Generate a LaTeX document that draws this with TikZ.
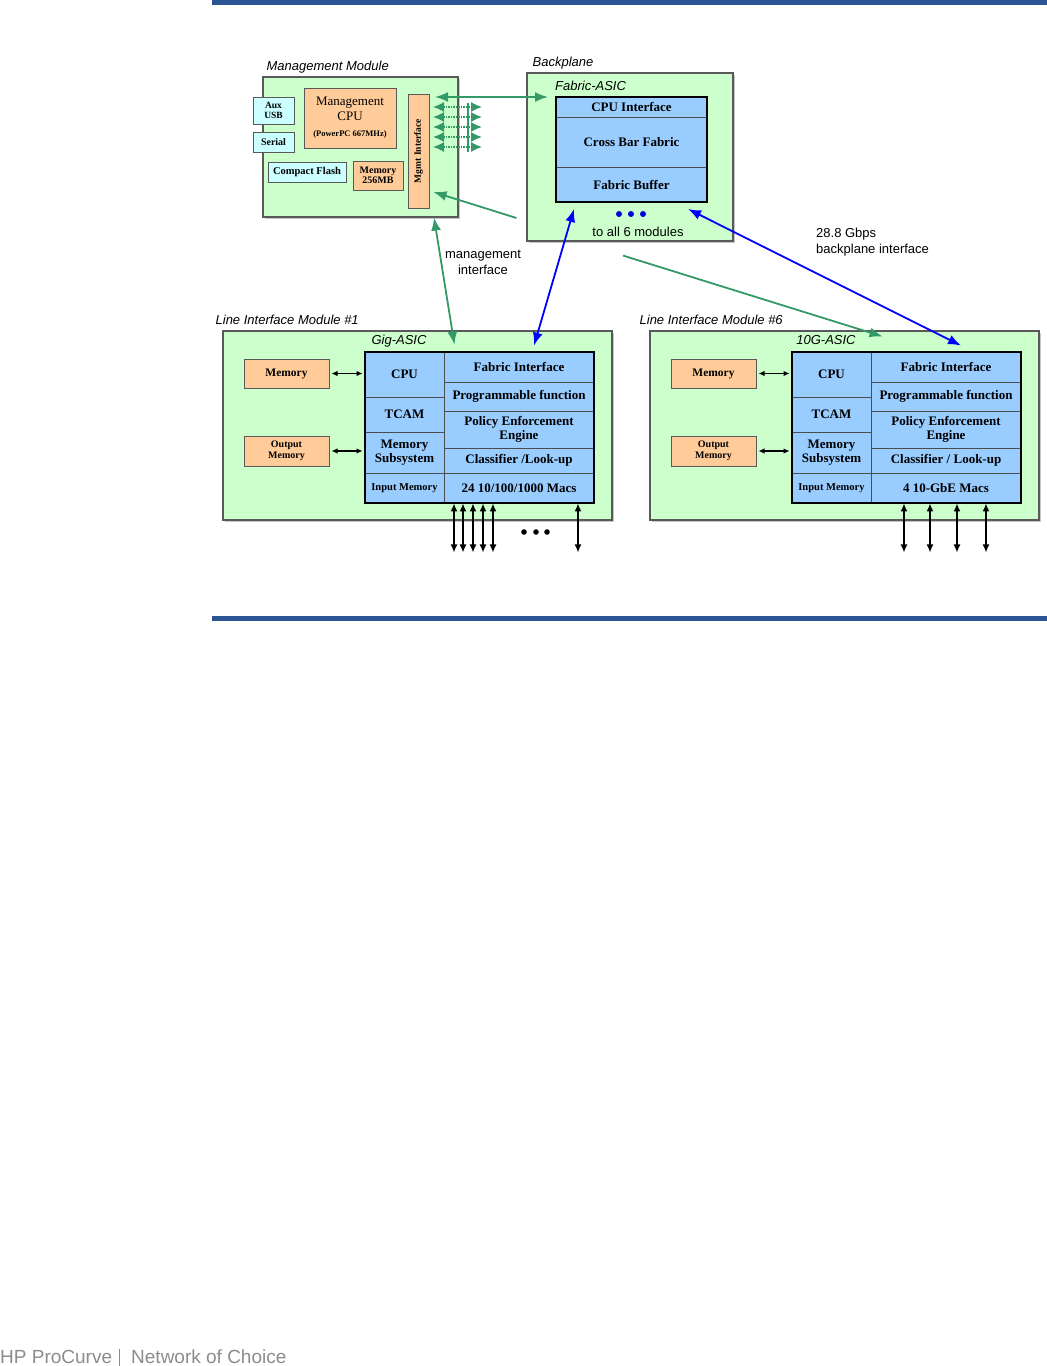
\documentclass[tikz,border=0pt]{standalone}
\usepackage{fontspec}
\setmainfont{Liberation Serif}
\setsansfont{Liberation Sans}
\usetikzlibrary{arrows.meta, positioning, shadows}

\definecolor{modgreen}{HTML}{CCFFCC}
\definecolor{asicblue}{HTML}{99CCFF}
\definecolor{memorange}{HTML}{FFCC99}
\definecolor{portcyan}{HTML}{CCFFFF}
\definecolor{linkgreen}{HTML}{339966}
\definecolor{linkblue}{HTML}{0000FF}
\definecolor{ruleblue}{HTML}{2B5594}
\definecolor{footgray}{HTML}{8C8C8C}

\begin{document}
\begin{tikzpicture}[
        x=1pt, y=-1pt,
        % boxes
        module/.style = {
            rectangle,
            draw=black!65,
            line width=1.1pt,
            fill=modgreen,
            inner sep=0pt,
            drop shadow={shadow xshift=1.5pt, shadow yshift=-1.5pt, opacity=0.45}
        },
        memblk/.style = {
            rectangle,
            draw=black!65,
            line width=1pt,
            fill=memorange,
            inner sep=1pt,
            align=center,
            font=\bfseries\fontsize{11.5}{12}\selectfont,
            drop shadow={shadow xshift=1.2pt, shadow yshift=-1.2pt, opacity=0.45}
        },
        portblk/.style = {
            memblk,
            fill=portcyan
        },
        cell/.style = {
            rectangle,
            draw=black!70,
            line width=0.9pt,
            fill=asicblue,
            inner sep=0pt,
            align=center,
            font=\bfseries\fontsize{13}{14}\selectfont
        },
        asicbox/.style = {rectangle, draw=black, line width=2pt, inner sep=0pt},
        % texts
        modtitle/.style = {font=\sffamily\itshape\fontsize{13}{15}\selectfont, inner sep=0pt},
        note/.style = {font=\sffamily\fontsize{13}{16}\selectfont, align=center, inner sep=0pt},
        footer/.style = {font=\sffamily\fontsize{19}{21}\selectfont, text=footgray, inner sep=0pt},
        % connectors
        mgmtlink/.style = {{Latex[length=13pt,width=10pt]}-{Latex[length=13pt,width=10pt]}, draw=linkgreen, line width=1.8pt},
        feedlink/.style = {-{Latex[length=13pt,width=10pt]}, draw=linkgreen, line width=1.8pt},
        buslink/.style = {{Latex[length=11pt,width=10pt]}-{Latex[length=11pt,width=10pt]}, draw=linkgreen, line width=1.5pt, densely dotted},
        datalink/.style = {{Latex[length=13pt,width=10pt]}-{Latex[length=13pt,width=10pt]}, draw=linkblue, line width=1.8pt},
        portlink/.style = {{Latex[length=8pt,width=7pt]}-{Latex[length=8pt,width=7pt]}, draw=black, line width=1.4pt},
        memlink/.style = {{Latex[length=6pt,width=5.5pt]}-{Latex[length=6pt,width=5.5pt]}, draw=black, line width=1.1pt}
    ]
    \useasboundingbox (0,0) rectangle (1047,1366);

    % page rules
    \fill[ruleblue] (212,0) rectangle (1047,5);
    \fill[ruleblue] (212,616) rectangle (1047,621);

    % 1. Management module
    \node (mgmt) [module, minimum width=195pt, minimum height=140pt] at (360.5,147) {};
    \node (mgmtlbl) [modtitle, above right=3pt and 4pt of mgmt.north west] {Management Module};
    \node (aux)    [portblk, minimum width=41pt, minimum height=27pt, font=\bfseries\fontsize{9.5}{10}\selectfont] at (273.5,110.5) {Aux\\USB};
    \node (serial) [portblk, minimum width=41pt, minimum height=20pt, font=\bfseries\fontsize{10}{10}\selectfont] at (273.5,142) {Serial};
    \node (mcpu)   [memblk, minimum width=92pt, minimum height=60pt, font=\fontsize{13}{15}\selectfont] at (350,118)
        {Management\\CPU\\[1pt]{\bfseries\fontsize{8.5}{9}\selectfont (PowerPC 667MHz)}};
    \node (cflash) [portblk, minimum width=78pt, minimum height=20pt, font=\bfseries\fontsize{10.5}{11}\selectfont] at (307,172) {Compact Flash};
    \node (mmem)   [memblk, minimum width=50pt, minimum height=29pt, font=\bfseries\fontsize{10}{10.5}\selectfont] at (378,175.5) {Memory\\256MB};
    \node (mgmtif) [memblk, minimum width=21pt, minimum height=114pt] at (418.5,151) {};
    \node (mgmtiftxt) [rotate=90, inner sep=0pt, font=\bfseries\fontsize{9.5}{10}\selectfont] at (mgmtif) {Mgmt Interface};

    % 2. Backplane
    \node (bp) [module, minimum width=206pt, minimum height=168pt] at (630,157) {};
    \node (bplbl) [modtitle, above right=3pt and 6pt of bp.north west] {Backplane};
    \node (cpuif) [cell, minimum width=151pt, minimum height=20pt] at (631.5,107) {CPU Interface};
    \node (xbar)  [cell, minimum width=151pt, minimum height=50pt] at (631.5,142) {Cross Bar Fabric};
    \node (fbuf)  [cell, minimum width=151pt, minimum height=35pt] at (631.5,184.5) {Fabric Buffer};
    \node (fasic) [asicbox, minimum width=151pt, minimum height=105pt] at (631.5,149.5) {};
    \node (fablbl) [modtitle, above right=5pt and 0pt of fasic.north west] {Fabric-ASIC};
    \foreach \x in {619,631,643}
        \fill[linkblue!85!black] (\x,214) circle (3pt);
    \node (allmods) [note] at (638,232) {to all 6 modules};

    % 3. Line Interface Module #1
    \node (lim1) [module, minimum width=389pt, minimum height=189pt] at (417.5,425.5) {};
    \node (lim1lbl) [modtitle, above right=6pt and -7pt of lim1.north west] {Line Interface Module \#1};
    \node (gig) [modtitle] at (399,341) {Gig-ASIC};
    \node (mem1) [memblk, minimum width=85pt, minimum height=29pt] at (286.5,373.5) {Memory};
    \node (out1) [memblk, minimum width=85pt, minimum height=30pt, font=\bfseries\fontsize{10}{11}\selectfont] at (286.5,451) {Output\\Memory};
    \node (cpu1)   [cell, minimum width=79pt, minimum height=45pt] at (404.5,374.5) {CPU};
    \node (tcam1)  [cell, minimum width=79pt, minimum height=35pt] at (404.5,414.5) {TCAM};
    \node (msub1)  [cell, minimum width=79pt, minimum height=41pt] at (404.5,452.5) {Memory\\Subsystem};
    \node (inmem1) [cell, minimum width=79pt, minimum height=30pt, font=\bfseries\fontsize{10.5}{11}\selectfont] at (404.5,488) {Input Memory};
    \node (fabif1) [cell, minimum width=150pt, minimum height=30pt] at (519,367) {Fabric Interface};
    \node (prog1)  [cell, minimum width=150pt, minimum height=29pt] at (519,396.5) {Programmable function};
    \node (pol1)   [cell, minimum width=150pt, minimum height=37pt] at (519,429.5) {Policy Enforcement\\Engine};
    \node (cls1)   [cell, minimum width=150pt, minimum height=25pt] at (519,460.5) {Classifier /Look-up};
    \node (macs1)  [cell, minimum width=150pt, minimum height=30pt] at (519,488) {24 10/100/1000 Macs};
    \node (asic1)  [asicbox, minimum width=229pt, minimum height=151pt] at (479.5,427.5) {};
    \draw [memlink, shorten <=2pt, shorten >=2pt] (mem1.east) -- (mem1.east -| cpu1.west);
    \draw [memlink, shorten <=2pt, shorten >=2pt] (out1.east) -- (out1.east -| msub1.west);
    \foreach \x in {454,463,473,483,493,578}
        \draw [portlink] (\x,0 |- macs1.south) -- ++(0,49);
    \foreach \x in {524,536,547}
        \fill (\x,532) circle (2.8pt);

    % 4. Line Interface Module #6
    \node (lim6) [module, minimum width=389pt, minimum height=189pt] at (844.5,425.5) {};
    \node (lim6lbl) [modtitle, above right=6pt and -10pt of lim6.north west] {Line Interface Module \#6};
    \node (teng) [modtitle] at (826,340) {10G-ASIC};
    \node (mem6) [memblk, minimum width=85pt, minimum height=29pt] at (713.5,373.5) {Memory};
    \node (out6) [memblk, minimum width=85pt, minimum height=30pt, font=\bfseries\fontsize{10}{11}\selectfont] at (713.5,451) {Output\\Memory};
    \node (cpu6)   [cell, minimum width=79pt, minimum height=45pt] at (831.5,374.5) {CPU};
    \node (tcam6)  [cell, minimum width=79pt, minimum height=35pt] at (831.5,414.5) {TCAM};
    \node (msub6)  [cell, minimum width=79pt, minimum height=41pt] at (831.5,452.5) {Memory\\Subsystem};
    \node (inmem6) [cell, minimum width=79pt, minimum height=30pt, font=\bfseries\fontsize{10.5}{11}\selectfont] at (831.5,488) {Input Memory};
    \node (fabif6) [cell, minimum width=150pt, minimum height=30pt] at (946,367) {Fabric Interface};
    \node (prog6)  [cell, minimum width=150pt, minimum height=29pt] at (946,396.5) {Programmable function};
    \node (pol6)   [cell, minimum width=150pt, minimum height=37pt] at (946,429.5) {Policy Enforcement\\Engine};
    \node (cls6)   [cell, minimum width=150pt, minimum height=25pt] at (946,460.5) {Classifier / Look-up};
    \node (macs6)  [cell, minimum width=150pt, minimum height=30pt] at (946,488) {4 10-GbE Macs};
    \node (asic6)  [asicbox, minimum width=229pt, minimum height=151pt] at (906.5,427.5) {};
    \draw [memlink, shorten <=2pt, shorten >=2pt] (mem6.east) -- (mem6.east -| cpu6.west);
    \draw [memlink, shorten <=2pt, shorten >=2pt] (out6.east) -- (out6.east -| msub6.west);
    \foreach \x in {904,930,957,986}
        \draw [portlink] (\x,0 |- macs6.south) -- ++(0,49);

    % 5. Links between modules
    \coordinate (mgmtport) at (435,97);
    \draw [mgmtlink] (mgmtport) -- ([xshift=-7pt]fasic.north west |- mgmtport);
    \foreach \y in {107,117,127,137,147}
        \draw [buslink] (433,\y) -- (482,\y);
    \draw [linkgreen, line width=1.5pt] (468,103) -- (468,152);
    \draw [feedlink] ([shift={(-10pt,-61pt)}]bp.west) -- ([shift={(4pt,-41pt)}]mgmtif.east);
    \draw [mgmtlink] ([xshift=73.5pt]mgmt.south) -- ([shift={(10pt,7pt)}]cpu1.north east);
    \node (mgmtnote) [note] at (483,262) {management\\interface};
    \draw [datalink] ([shift={(19pt,-6pt)}]fasic.south west) -- ([shift={(15pt,6pt)}]fabif1.north);
    \draw [datalink] ([shift={(-20pt,-6pt)}]fasic.south east) -- ([shift={(15pt,6pt)}]fabif6.north);
    \draw [feedlink] ([shift={(-7pt,-14pt)}]bp.south) -- ([shift={(38pt,-6pt)}]lim6.north);
    \node (bwnote) [note, align=left, anchor=west] at (816,242) {28.8 Gbps\\backplane interface};

    % footer
    \node (brand)   [footer, anchor=base west] at (0,1363) {HP ProCurve};
    \node (tagline) [footer, anchor=base west] at (131,1363) {Network of Choice};
    \draw [footgray, line width=0.8pt] (119,1349) -- (119,1366);

\end{tikzpicture}
\end{document}
